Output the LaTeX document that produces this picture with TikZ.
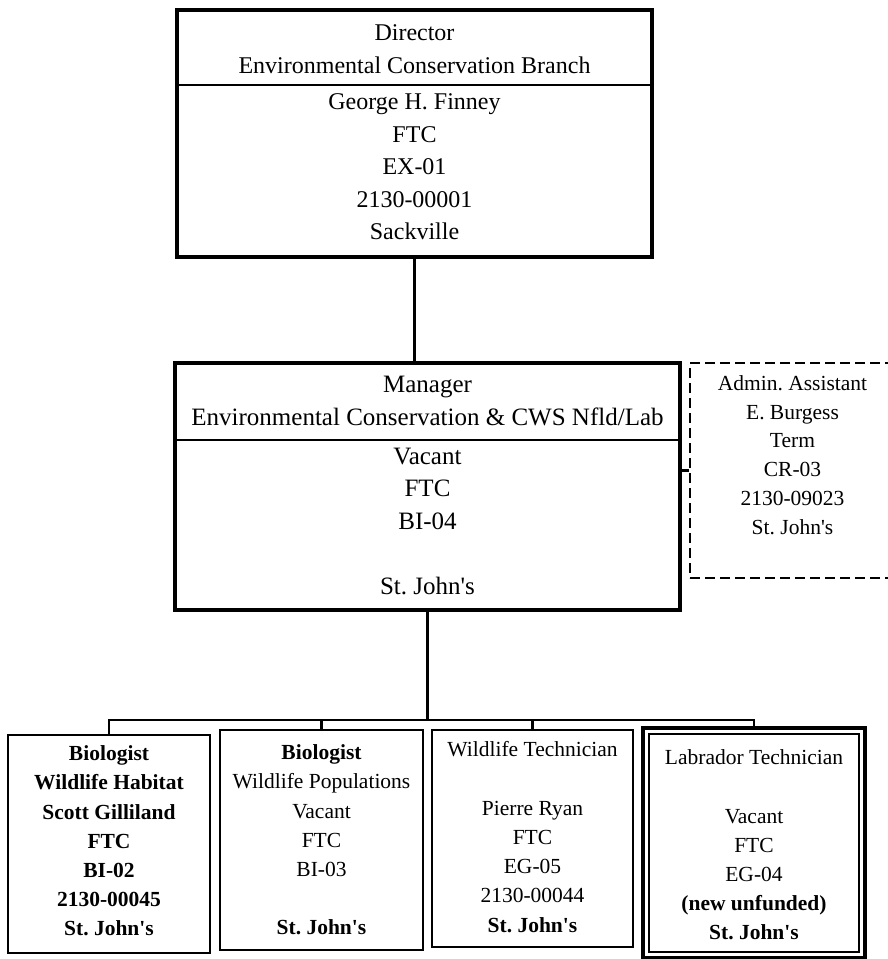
\documentclass[tikz,border=0pt]{standalone}
\usepackage{fontspec}
\setmainfont{Liberation Serif}
\newcommand{\sj}{St.\ John\textquotesingle s}
\begin{document}
\begin{tikzpicture}[x=1pt,y=-1pt,
  bigbox/.style={draw, line width=3.5pt, inner sep=0pt},
  smallbox/.style={draw, line width=2.8pt, inner sep=0pt},
  dashbox/.style={draw, line width=2.5pt, dash pattern=on 10pt off 5pt, inner sep=0pt},
  bigtxt/.style={align=center, inner sep=0pt, font=\fontsize{24}{32.5}\selectfont},
  mgrtxt/.style={align=center, inner sep=0pt, font=\fontsize{25}{32.5}\selectfont},
  smtxt/.style={align=center, inner sep=0pt, font=\fontsize{21.5}{29.2}\selectfont},
  admtxt/.style={align=center, inner sep=0pt, font=\fontsize{21.5}{28.7}\selectfont},
  link/.style={line width=2.2pt},
  divider/.style={line width=1.8pt}]
\useasboundingbox (0,0) rectangle (888,959);
\clip (0,0) rectangle (888,959);
\fill[white] (0,0) rectangle (888,959);

% Director
\node[bigbox, minimum width=475pt, minimum height=247pt] (dir) at (414.5,133.5) {};
\node[bigtxt] (dirA) at (414.5,49) {Director\\Environmental Conservation Branch};
\node[bigtxt] (dirB) at (414.5,167) {George H. Finney\\FTC\\EX-01\\2130-00001\\Sackville};
\coordinate (dirdiv) at (0,85);
\draw[divider] (dir.west |- dirdiv) -- (dir.east |- dirdiv);

% Manager
\node[bigbox, minimum width=505pt, minimum height=247pt] (mgr) at (427.5,486.5) {};
\node[mgrtxt] (mgrA) at (427.5,401) {Manager\\Environmental Conservation \& CWS Nfld/Lab};
\node[mgrtxt] (mgrB) at (427.5,521) {Vacant\\FTC\\BI-04\\[32.5pt]\sj};
\coordinate (mgrdiv) at (0,440);
\draw[divider] (mgr.west |- mgrdiv) -- (mgr.east |- mgrdiv);

% Admin assistant (dashed)
\node[dashbox, minimum width=205pt, minimum height=215pt] (adm) at (792.5,470.5) {};
\node[admtxt] (admT) at (792.5,455) {Admin.\ Assistant\\E. Burgess\\Term\\CR-03\\2130-09023\\\sj};

% Bottom boxes
\node[smallbox, minimum width=202pt, minimum height=218pt] (b1) at (109,844) {};
\node[smtxt, font=\fontsize{21.5}{29.2}\selectfont\bfseries] (b1T) at (109,841) {Biologist\\Wildlife Habitat\\Scott Gilliland\\FTC\\BI-02\\2130-00045\\\sj};

\node[smallbox, minimum width=203pt, minimum height=220pt] (b2) at (321.5,840) {};
\node[smtxt] (b2T) at (321.5,840) {\textbf{Biologist}\\Wildlife Populations\\Vacant\\FTC\\BI-03\\[29.2pt]\textbf{\sj}};

\node[smallbox, minimum width=201pt, minimum height=217pt] (b3) at (532.5,838.5) {};
\node[smtxt] (b3T) at (532.5,837) {Wildlife Technician\\[29.2pt]Pierre Ryan\\FTC\\EG-05\\2130-00044\\\textbf{\sj}};

\node[smallbox, line width=3.8pt, minimum width=222pt, minimum height=230pt] (b4) at (754,843) {};
\draw[line width=1.8pt] ([xshift=8pt,yshift=-8pt]b4.north west) rectangle ([xshift=-8pt,yshift=8pt]b4.south east);
\node[smtxt] (b4T) at (754,845) {Labrador Technician\\[29.2pt]Vacant\\FTC\\EG-04\\\textbf{(new unfunded)}\\\textbf{\sj}};

% Connectors
\coordinate (bus) at (0,720);
\draw[link] (dir.south) -- (dir.south |- mgr.north);
\draw[link] (adm.west) -- (adm.west -| mgr.east);
\draw[link] (mgr.south) -- (mgr.south |- bus);
\draw[link] (b1.north) |- (b4.north |- bus) -- (b4.north);
\draw[link] (b2.north) -- (b2.north |- bus);
\draw[link] (b3.north) -- (b3.north |- bus);
\end{tikzpicture}
\end{document}
